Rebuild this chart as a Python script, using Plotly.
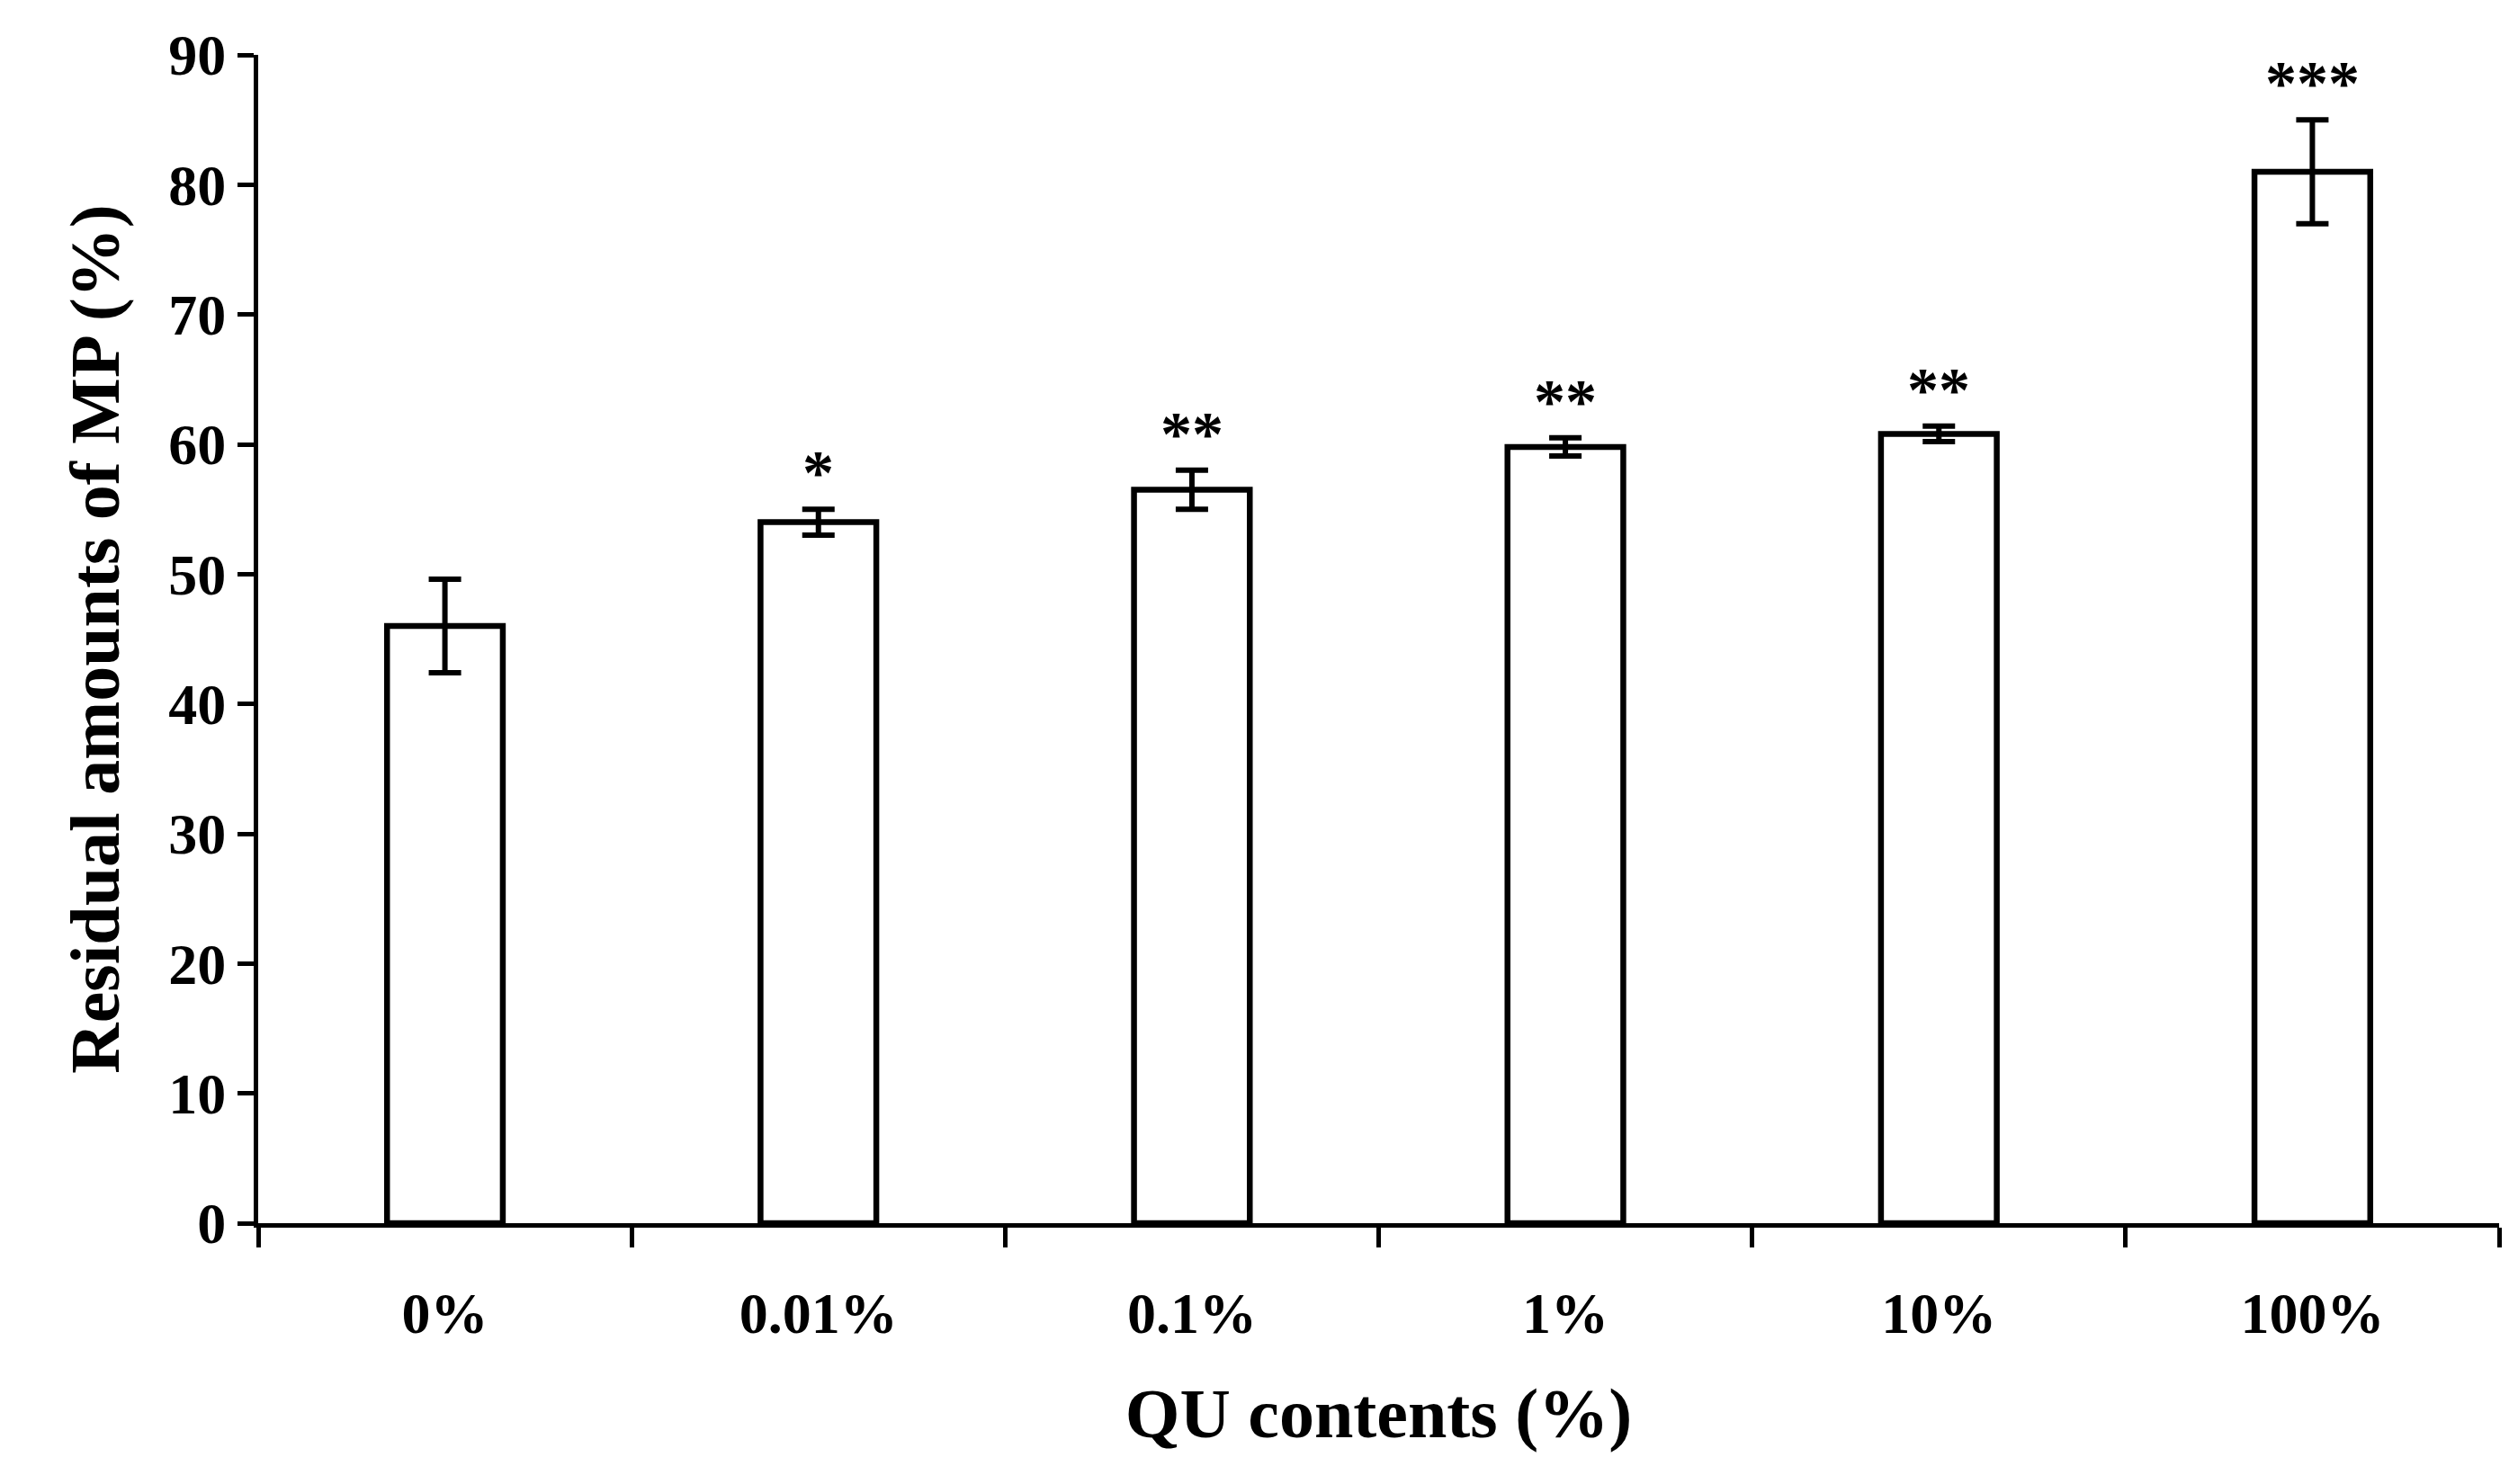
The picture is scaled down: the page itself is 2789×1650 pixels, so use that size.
import plotly.graph_objects as go

categories = ["0%", "0.01%", "0.1%", "1%", "10%", "100%"]
values = [46.0, 54.0, 56.5, 59.8, 60.8, 81.0]
errors = [3.6, 1.0, 1.5, 0.7, 0.6, 4.0]
stars = ["", "*", "**", "**", "**", "***"]

font = "Liberation Serif"
fig = go.Figure()
fig.add_trace(go.Bar(
    x=categories, y=values, width=0.31,
    marker=dict(color="white", line=dict(color="black", width=6.5)),
    error_y=dict(type="data", array=errors, color="black", thickness=6, width=18),
))
for c, v, e, s in zip(categories, values, errors, stars):
    if s:
        fig.add_annotation(x=c, y=v + e, text="<b>" + s + "</b>", showarrow=False,
                           yanchor="bottom", yshift=0,
                           font=dict(family=font, size=70, color="black"))
fig.update_layout(
    width=2789, height=1650, plot_bgcolor="white", paper_bgcolor="white",
    margin=dict(l=279, r=19, t=53, b=298), showlegend=False,
    font=dict(family=font, color="black"),
    xaxis=dict(title=dict(text="<b>QU contents (%)</b>", font=dict(size=78), standoff=50),
               tickfont=dict(size=64), tickprefix="<b>", ticksuffix="</b>",
               showline=True, linecolor="black", linewidth=5,
               ticks="outside", tickson="boundaries", ticklen=22, tickwidth=5,
               tickcolor="black", ticklabelstandoff=40),
    yaxis=dict(title=dict(text="<b>Residual amounts of MP (%)</b>", font=dict(size=78), standoff=30),
               range=[0, 90], dtick=10, tickfont=dict(size=64),
               tickprefix="<b>", ticksuffix="</b>",
               showline=True, linecolor="black", linewidth=5, showgrid=False,
               ticks="outside", ticklen=18, tickwidth=5, tickcolor="black", zeroline=False),
)
fig.write_html("out.html")
